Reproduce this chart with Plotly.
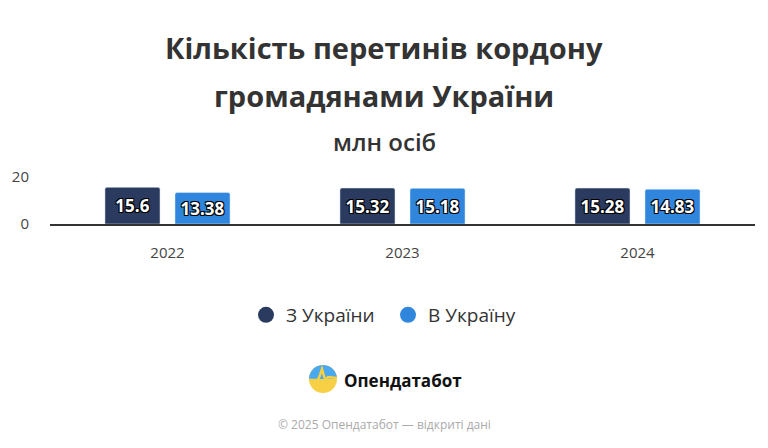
import math
import plotly.graph_objects as go

years = ["2022", "2023", "2024"]
from_ukraine = [15.6, 15.32, 15.28]
to_ukraine = [13.38, 15.18, 14.83]
series_names = ["З України", "В Україну"]
colors = ["#2a3b5f", "#2f86dc"]

W, H = 768, 448
OFF = 8  # page body margin offset compensation
# plot area in screen pixels (reference): left 50, right 755, top 177, bottom 224
SL, SR, ST, SB = 50, 755, 177, 224
L = SL - OFF
R = W - (SR - OFF)
T = ST - OFF
B = SB - OFF
PW = SR - SL
PH = SB - ST

def px(x):
    return (x - SL) / PW

def py(y):
    return (SB - y) / PH

fig = go.Figure()
for name, vals, col in zip(series_names, [from_ukraine, to_ukraine], colors):
    fig.add_trace(go.Bar(
        x=years, y=vals, name=name, marker_color=col, showlegend=False,
        text=[f"{v:g}" for v in vals], textposition="inside", insidetextanchor="middle",
        textangle=0,
        textfont=dict(family="Open Sans", size=17, color="white", weight="bold",
                      shadow="1px 1px 0 #000, -1px -1px 0 #000, 1px -1px 0 #000, -1px 1px 0 #000"),
        cliponaxis=False, hoverinfo="skip",
    ))
    fig.add_trace(go.Scatter(
        x=[None], y=[None], mode="markers", name=name,
        marker=dict(symbol="circle", size=20, color=col),
    ))

fig.update_layout(
    width=W, height=H,
    margin=dict(l=L, r=R, t=T, b=H - B, autoexpand=False),
    paper_bgcolor="white", plot_bgcolor="white",
    font=dict(family="Open Sans", color="#444"),
    barmode="group", bargap=0.404, bargroupgap=0.214, barcornerradius=2,
    showlegend=True,
    legend=dict(orientation="h", x=(388 - OFF) / W, xanchor="center", xref="container",
                yref="container", y=1 - (315 - OFF) / H, yanchor="middle",
                font=dict(size=19, color="#333"), entrywidth=97,
                itemwidth=30, traceorder="normal"),
    xaxis=dict(showgrid=False, showline=True, linecolor="#333", linewidth=1.5,
               tickfont=dict(size=15, color="#444"), ticks="", ticklabelstandoff=14,
               fixedrange=True, automargin=False),
    yaxis=dict(range=[0, 20], tickvals=[0, 20], showgrid=True, gridcolor="#e6e6e6",
               zeroline=False, tickfont=dict(size=15, color="#444"),
               ticklabelstandoff=20, fixedrange=True, automargin=False),
)

annotations = [
    dict(text="Кількість перетинів кордону", x=px(384), y=py(47), size=29, color="#333", weight="bold"),
    dict(text="громадянами України", x=px(384), y=py(95), size=29, color="#333", weight="bold"),
    dict(text="млн осіб", x=px(384), y=py(141), size=24, color="#333", weight=600),
    dict(text="Опендатабот", x=px(342), y=py(380), size=17, color="#111", weight="bold", xanchor="left"),
    dict(text="© 2025 Опендатабот — відкриті дані", x=px(384), y=py(424), size=12, color="#aaa", weight="normal"),
]
for a in annotations:
    fig.add_annotation(
        text=a["text"], xref="paper", yref="paper", x=a["x"], y=a["y"],
        xanchor=a.get("xanchor", "center"), yanchor="middle", showarrow=False,
        font=dict(family="Open Sans", size=a["size"], color=a["color"], weight=a["weight"]),
    )

# Logo icon (decorative)
cx, cy, r = 323, 379, 14
fig.add_shape(type="circle", xref="paper", yref="paper",
              x0=px(cx - r), x1=px(cx + r), y0=py(cy + r), y1=py(cy - r),
              fillcolor="#f7d046", line=dict(width=0))
pts = []
for i in range(41):
    ang = math.pi * i / 40
    pts.append((cx + r * math.cos(ang), cy - r * math.sin(ang)))
path = "M " + " L ".join(f"{px(x):.5f},{py(y):.5f}" for x, y in pts) + " Z"
fig.add_shape(type="path", xref="paper", yref="paper", path=path,
              fillcolor="#4aa8ee", line=dict(width=0))
beat = [(cx - r, cy + 1), (cx - 5, cy + 1), (cx - 3, cy - 4), (cx - 1, cy - 10),
        (cx + 1, cy - 3), (cx + 3, cy + 2), (cx + 5, cy - 2), (cx + r, cy - 1)]
bpath = "M " + " L ".join(f"{px(x):.5f},{py(y):.5f}" for x, y in beat)
fig.add_shape(type="path", xref="paper", yref="paper", path=bpath,
              line=dict(color="#f7d046", width=2.5))

fig.write_html("out.html")
